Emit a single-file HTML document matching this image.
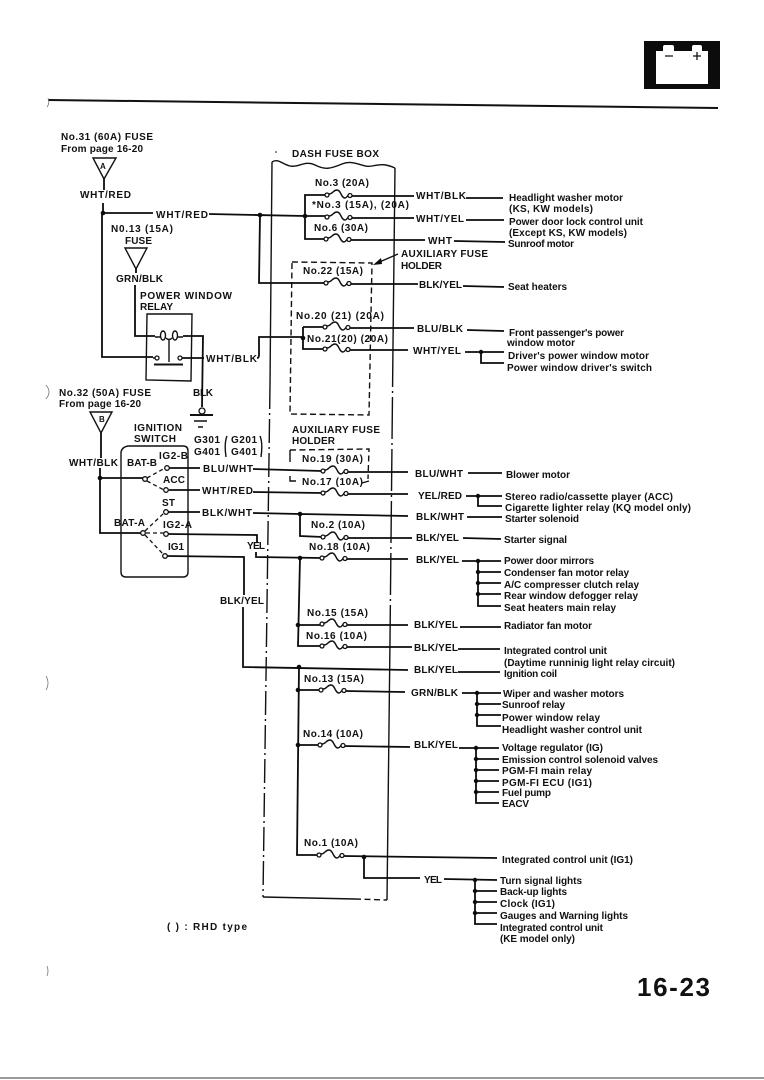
<!DOCTYPE html>
<html><head><meta charset="utf-8"><title>16-23</title>
<style>
html,body{margin:0;padding:0;background:#fff;width:764px;height:1080px;overflow:hidden}
svg{display:block;filter:blur(0.3px)}
text{font-family:"Liberation Sans",sans-serif;font-weight:bold;font-size:10px;fill:#111}
.w{fill:none;stroke:#0c0c0c;stroke-width:1.8}
.t{fill:none;stroke:#111;stroke-width:1.4}
.d{fill:none;stroke:#111;stroke-width:1.4;stroke-dasharray:6 3.5}
.cl{fill:none;stroke:#111;stroke-width:1.4;stroke-dasharray:24 4 2 4}
.cr{fill:none;stroke:#111;stroke-width:1.4;stroke-dasharray:42 4 2 4}
.j{fill:#0c0c0c;stroke:none}
.o{fill:#fff;stroke:#111;stroke-width:1.3}
</style></head><body>
<svg width="764" height="1080" viewBox="0 0 764 1080" xmlns="http://www.w3.org/2000/svg">
<defs>
<g id="f"><path d="M2,-1C6,-1 6,-5 10,-5C14,-5 14,3 18,3C19.500,3 20,1.500 21,0.500" fill="none" stroke="#111" stroke-width="1.400"/><circle cx="0" cy="0" r="2" class="o"/><circle cx="23" cy="0.500" r="2" class="o"/></g>
</defs>
<rect width="764" height="1080" fill="#fff"/>

<!-- header -->
<path d="M48,100L718,108" fill="none" stroke="#111" stroke-width="2"/>
<rect x="644" y="41" width="76" height="48" fill="#0c0c0c"/>
<path d="M656,51H663V47Q663,45 665,45H672Q674,45 674,47V51H692V47Q692,45 694,45H700Q702,45 702,47V51H708V84H656Z" fill="#fff"/>
<path d="M665,56H673M693,56H701M697,52V60" stroke="#111" stroke-width="1.300" fill="none"/>

<!-- dash fuse box -->
<path d="M272,162C278,158 282,164 290,166S305,160 315,165S330,169 342,164S362,168 372,166S386,164 395,168" class="t"/>
<path d="M272,162L270,385" class="t"/>
<path d="M270,385L263,897" class="cl"/>
<path d="M395,168L393,345" class="t"/>
<path d="M393,345L390,640" class="cr"/>
<path d="M390,640L387,900" class="t"/>
<path d="M263,897L355,899" class="t"/><path d="M355,899L387,900" class="d"/>
<circle cx="276" cy="152" r="0.800" class="j"/>

<!-- aux holder boxes -->
<path d="M292,262L372,263L369,415L290,414Z" class="d"/>
<path d="M290,450L369,449L368,479" class="d"/>
<path d="M290,450V462M290,476V481H296M369,481L362,483" class="t"/>
<path d="M398,254L377,263" class="t"/><path d="M373,265L381,258L382,264Z" class="j"/>

<!-- feed A -->
<path d="M93,158H116L104,179Z" class="t"/>
<path d="M104,179V190M103,203V213M102,213V357H153" class="w"/>
<path d="M103,213H153M209,214L305,216H327M260,215L259,283H326M305,216V195H327M305,216V239H326" class="w"/>
<circle cx="103" cy="213" r="2.300" class="j"/><circle cx="260" cy="215" r="2.300" class="j"/><circle cx="305" cy="216" r="2.300" class="j"/>
<!-- NO.13 triangle -->
<path d="M125,248H147L136,269Z" class="t"/>
<path d="M136,269V273M135,285V336H155" class="w"/>
<!-- relay -->
<path d="M147,314H192L191,381L146,380Z" class="t"/>
<path d="M155,337H160M166,338Q169,341 172,338M178,337H183M169,340V362" class="t"/>
<ellipse cx="163" cy="335.500" rx="2.500" ry="4.500" class="t"/><ellipse cx="175" cy="335.500" rx="2.500" ry="4.500" class="t"/>
<path d="M183,336H203L202,407M182,358H204M257,358Q259,358 259,355V337H303" class="w"/>
<path d="M153,358H155M182,358H180" class="t"/>
<circle cx="157" cy="358" r="2" class="o"/><circle cx="180" cy="358" r="2" class="o"/>
<path d="M154,364.500H183" stroke="#111" stroke-width="2"/>
<circle cx="202" cy="411" r="3" class="o"/>
<path d="M190,415H213" stroke="#111" stroke-width="2"/><path d="M194,421H207M198,427H203" class="t"/>
<!-- No 20/21 -->
<path d="M303,327V349H325M303,327H325" class="w"/><circle cx="303" cy="338" r="2.300" class="j"/>

<!-- fuse outputs top -->
<path d="M350,196H414M350,218H414M349,240H425M349,284H418M348,328H414M348,350H408" class="w"/>

<!-- feed B -->
<path d="M90,412H112L101,433Z" class="t"/>
<path d="M101,433V458M100,468V533H142M100,478H143" class="w"/>
<circle cx="100" cy="478" r="2.300" class="j"/>
<!-- ignition switch -->
<path d="M128,446H183Q188,446 188,451V572Q188,577 183,577H126Q121,577 121,572V452Q122,447 128,446Z" class="t"/>
<circle cx="145" cy="479" r="2.300" class="o"/><circle cx="143" cy="533" r="2.300" class="o"/>
<path d="M147,478L165,468M147,481L164,490M145,531L164,513M146,533H164M145,535L163,554" fill="none" stroke="#111" stroke-width="1.300" stroke-dasharray="4 3"/>
<circle cx="167" cy="468" r="2.300" class="o"/><circle cx="166" cy="490" r="2.300" class="o"/><circle cx="166" cy="512" r="2.300" class="o"/><circle cx="166" cy="534" r="2.300" class="o"/><circle cx="165" cy="556" r="2.300" class="o"/>
<path d="M169,468H200M253,469L322,471M169,490H200M253,492L322,493M168,512H200M253,513L300,514L408,516M300,514V536L323,537M168,534L257,535V543M256,552V557L322,558M167,556L244,557V595M243,607V667L408,670" class="w"/>
<circle cx="300" cy="514" r="2.300" class="j"/><circle cx="300" cy="558" r="2.300" class="j"/><circle cx="299" cy="667" r="2.300" class="j"/>
<path d="M300,558L298,646H322M298,625H322M299,667L297,855H319M298,690H321M298,745H320" class="w"/>
<circle cx="298" cy="625" r="2.300" class="j"/><circle cx="298" cy="690" r="2.300" class="j"/><circle cx="298" cy="745" r="2.300" class="j"/>
<path d="M346,472H408M346,494H408M346,538H412M345,559H408M345,625H408M345,647H412M344,691L405,692M343,746L410,747M342,856L497,858M364,857V878H420" class="w"/>
<circle cx="364" cy="857" r="2.300" class="j"/>

<!-- fuses -->
<use href="#f" x="327" y="195"/><use href="#f" x="327" y="217"/><use href="#f" x="326" y="239"/>
<use href="#f" x="326" y="283"/><use href="#f" x="325" y="327"/><use href="#f" x="325" y="349"/>
<use href="#f" x="323" y="471"/><use href="#f" x="323" y="493"/><use href="#f" x="323" y="537"/>
<use href="#f" x="322" y="558"/><use href="#f" x="322" y="624"/><use href="#f" x="322" y="646"/>
<use href="#f" x="321" y="690"/><use href="#f" x="320" y="745"/><use href="#f" x="319" y="855"/>

<!-- right side connectors -->
<path d="M466,198H503M466,220H504M454,241L505,242M463,286L504,287M467,330L504,331M465,352H504M481,352V363H504
M468,473H502M466,496H502M478,496V506H502M467,517H502M463,538L501,539
M462,561H501M478,561V606H501M478,572H501M478,583H501M478,594H501
M460,627H501M458,649H500M458,672H500
M462,693H501M477,693V726H501M477,704H501M477,715H501
M459,748H499M476,748V803H499M476,759H499M476,770H499M476,781H499M476,792H499
M444,879L497,880M475,880V924H497M475,891H497M475,902H497M475,913H497" class="w"/>
<g class="j"><circle cx="481" cy="352" r="2.200"/><circle cx="478" cy="496" r="2.200"/>
<circle cx="478" cy="561" r="2.200"/><circle cx="478" cy="572" r="2.200"/><circle cx="478" cy="583" r="2.200"/><circle cx="478" cy="594" r="2.200"/>
<circle cx="477" cy="693" r="2.200"/><circle cx="477" cy="704" r="2.200"/><circle cx="477" cy="715" r="2.200"/>
<circle cx="476" cy="748" r="2.200"/><circle cx="476" cy="759" r="2.200"/><circle cx="476" cy="770" r="2.200"/><circle cx="476" cy="781" r="2.200"/><circle cx="476" cy="792" r="2.200"/>
<circle cx="475" cy="880" r="2.200"/><circle cx="475" cy="891" r="2.200"/><circle cx="475" cy="902" r="2.200"/><circle cx="475" cy="913" r="2.200"/></g>

<!-- G brackets -->
<path d="M227,436Q224,443 226,457M260,436Q263,443 261,457" class="t"/>

<!-- noise marks -->
<path d="M48,98Q50,103 47,107M46,385Q52,392 46,399M46,676Q50,683 46,690M47,966Q49,971 47,976" fill="none" stroke="#777" stroke-width="0.800"/>

<!-- labels left -->
<text x="61" y="140" textLength="92">No.31 (60A) FUSE</text>
<text x="61" y="152" textLength="82">From page 16-20</text>
<text x="100" y="169" style="font-size:8px">A</text>
<text x="80" y="198" textLength="51">WHT/RED</text>
<text x="156" y="218" textLength="52">WHT/RED</text>
<text x="111" y="232" textLength="62">N0.13 (15A)</text>
<text x="125" y="244" textLength="27">FUSE</text>
<text x="116" y="282" textLength="47">GRN/BLK</text>
<text x="140" y="299" textLength="92">POWER WINDOW</text>
<text x="140" y="310" textLength="33">RELAY</text>
<text x="206" y="362" textLength="51">WHT/BLK</text>
<text x="59" y="396" textLength="92">No.32 (50A) FUSE</text>
<text x="59" y="407" textLength="82">From page 16-20</text>
<text x="193" y="396" textLength="20">BLK</text>
<text x="99" y="422" style="font-size:8px">B</text>
<text x="134" y="431" textLength="48">IGNITION</text>
<text x="134" y="442" textLength="42">SWITCH</text>
<text x="194" y="443" textLength="26">G301</text>
<text x="194" y="455" textLength="26">G401</text>
<text x="231" y="443" textLength="26">G201</text>
<text x="231" y="455" textLength="26">G401</text>
<text x="69" y="466" textLength="49">WHT/BLK</text>
<text x="127" y="466" textLength="30">BAT-B</text>
<text x="159" y="459" textLength="29">IG2-B</text>
<text x="163" y="483" textLength="22">ACC</text>
<text x="162" y="506" textLength="13">ST</text>
<text x="114" y="526" textLength="31">BAT-A</text>
<text x="163" y="528" textLength="29">IG2-A</text>
<text x="168" y="550" textLength="16">IG1</text>
<text x="203" y="472" textLength="50">BLU/WHT</text>
<text x="202" y="494" textLength="51">WHT/RED</text>
<text x="202" y="516" textLength="50">BLK/WHT</text>
<text x="247" y="549" textLength="18">YEL</text>
<text x="220" y="604" textLength="44">BLK/YEL</text>

<!-- box labels -->
<text x="292" y="157" textLength="87">DASH FUSE BOX</text>
<text x="315" y="186" textLength="54">No.3 (20A)</text>
<text x="312" y="208" textLength="97">*No.3 (15A), (20A)</text>
<text x="314" y="231" textLength="54">No.6 (30A)</text>
<text x="303" y="274" textLength="60">No.22 (15A)</text>
<text x="296" y="319" textLength="88">No.20 (21) (20A)</text>
<text x="307" y="342" textLength="81">No.21(20) (20A)</text>
<text x="292" y="433" textLength="88">AUXILIARY FUSE</text>
<text x="292" y="444" textLength="43">HOLDER</text>
<text x="302" y="462" textLength="61">No.19 (30A)</text>
<text x="302" y="485" textLength="61">No.17 (10A)</text>
<text x="311" y="528" textLength="54">No.2 (10A)</text>
<text x="309" y="550" textLength="61">No.18 (10A)</text>
<text x="307" y="616" textLength="61">No.15 (15A)</text>
<text x="306" y="639" textLength="61">No.16 (10A)</text>
<text x="304" y="682" textLength="60">No.13 (15A)</text>
<text x="303" y="737" textLength="60">No.14 (10A)</text>
<text x="304" y="846" textLength="54">No.1 (10A)</text>

<!-- wire labels right -->
<text x="416" y="199" textLength="50">WHT/BLK</text>
<text x="416" y="222" textLength="48">WHT/YEL</text>
<text x="428" y="244" textLength="24">WHT</text>
<text x="401" y="257" textLength="87">AUXILIARY FUSE</text>
<text x="401" y="269" textLength="41">HOLDER</text>
<text x="419" y="288" textLength="43">BLK/YEL</text>
<text x="417" y="332" textLength="46">BLU/BLK</text>
<text x="413" y="354" textLength="48">WHT/YEL</text>
<text x="415" y="477" textLength="48">BLU/WHT</text>
<text x="418" y="499" textLength="44">YEL/RED</text>
<text x="416" y="520" textLength="48">BLK/WHT</text>
<text x="416" y="541" textLength="43">BLK/YEL</text>
<text x="416" y="563" textLength="43">BLK/YEL</text>
<text x="414" y="628" textLength="44">BLK/YEL</text>
<text x="414" y="651" textLength="44">BLK/YEL</text>
<text x="414" y="673" textLength="44">BLK/YEL</text>
<text x="411" y="696" textLength="47">GRN/BLK</text>
<text x="414" y="748" textLength="44">BLK/YEL</text>
<text x="424" y="883" textLength="18">YEL</text>

<!-- descriptions -->
<g style="font-size:9.5px">
<text x="509" y="201" textLength="114">Headlight washer motor</text>
<text x="509" y="212" textLength="84">(KS, KW models)</text>
<text x="509" y="225" textLength="134">Power door lock control unit</text>
<text x="509" y="236" textLength="118">(Except KS, KW models)</text>
<text x="508" y="247" textLength="66">Sunroof motor</text>
<text x="508" y="290" textLength="59">Seat heaters</text>
<text x="509" y="336" textLength="115">Front passenger's power</text>
<text x="507" y="346" textLength="68">window motor</text>
<text x="508" y="359" textLength="141">Driver's power window motor</text>
<text x="507" y="371" textLength="145">Power window driver's switch</text>
<text x="506" y="478" textLength="64">Blower motor</text>
<text x="505" y="500" textLength="168">Stereo radio/cassette player (ACC)</text>
<text x="505" y="511" textLength="186">Cigarette lighter relay (KQ model only)</text>
<text x="505" y="522" textLength="74">Starter solenoid</text>
<text x="504" y="543" textLength="63">Starter signal</text>
<text x="504" y="564" textLength="90">Power door mirrors</text>
<text x="504" y="576" textLength="125">Condenser fan motor relay</text>
<text x="504" y="588" textLength="135">A/C compresser clutch relay</text>
<text x="504" y="599" textLength="134">Rear window defogger relay</text>
<text x="504" y="611" textLength="112">Seat heaters main relay</text>
<text x="504" y="629" textLength="88">Radiator fan motor</text>
<text x="504" y="654" textLength="103">Integrated control unit</text>
<text x="504" y="666" textLength="171">(Daytime runninig light relay circuit)</text>
<text x="504" y="677" textLength="53">Ignition coil</text>
<text x="503" y="697" textLength="121">Wiper and washer motors</text>
<text x="502" y="708" textLength="63">Sunroof relay</text>
<text x="502" y="721" textLength="98">Power window relay</text>
<text x="502" y="733" textLength="140">Headlight washer control unit</text>
<text x="502" y="751" textLength="101">Voltage regulator (IG)</text>
<text x="502" y="763" textLength="156">Emission control solenoid valves</text>
<text x="502" y="774" textLength="90">PGM-FI main relay</text>
<text x="502" y="786" textLength="90">PGM-FI ECU (IG1)</text>
<text x="502" y="796" textLength="49">Fuel pump</text>
<text x="502" y="807" textLength="27">EACV</text>
<text x="502" y="863" textLength="131">Integrated control unit (IG1)</text>
<text x="500" y="884" textLength="82">Turn signal lights</text>
<text x="500" y="895" textLength="67">Back-up lights</text>
<text x="500" y="907" textLength="55">Clock (IG1)</text>
<text x="500" y="919" textLength="128">Gauges and Warning lights</text>
<text x="500" y="931" textLength="103">Integrated control unit</text>
<text x="500" y="942" textLength="75">(KE model only)</text>
<text x="167" y="930" textLength="80">( ) : RHD type</text>
</g>

<text x="637" y="996" textLength="73" style="font-size:26px">16-23</text>
<rect x="0" y="1077" width="764" height="2" fill="#999"/>
</svg>
</body></html>
